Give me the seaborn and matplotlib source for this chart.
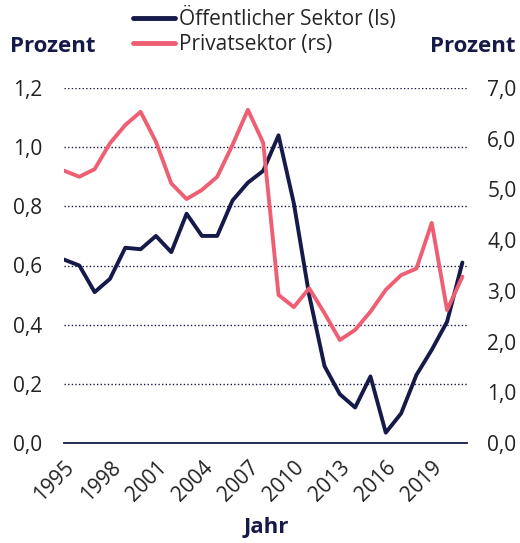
import numpy as np
import pandas as pd
import matplotlib
matplotlib.use("Agg")
import matplotlib.pyplot as plt
from matplotlib.ticker import FuncFormatter, FixedLocator
import seaborn as sns

# ==== Data ====
years = list(range(1995, 2022))
public_sector = [0.62, 0.60, 0.51, 0.555, 0.66, 0.655, 0.70, 0.645, 0.775, 0.70,
                 0.70, 0.82, 0.88, 0.92, 1.04, 0.81, 0.50, 0.26, 0.165, 0.12,
                 0.225, 0.035, 0.10, 0.23, 0.315, 0.41, 0.61]          # left axis
private_sector = [5.37, 5.25, 5.40, 5.91, 6.27, 6.53, 5.94, 5.12, 4.81, 4.99,
                  5.25, 5.88, 6.57, 5.92, 2.92, 2.68, 3.05, 2.56, 2.03, 2.23,
                  2.59, 3.02, 3.31, 3.44, 4.34, 2.62, 3.28]           # right axis
x_ticks = list(range(1995, 2020, 3))
left_ticks = [0.0, 0.2, 0.4, 0.6, 0.8, 1.0, 1.2]
right_ticks = [0, 1, 2, 3, 4, 5, 6, 7]

df = pd.DataFrame({"Jahr": years, "public": public_sector, "private": private_sector})

navy = "#151a48"
pink = "#ef5f74"
txt = "#222222"
fs = 15

sns.set_style("white")
plt.rcParams["font.family"] = ["Open Sans", "DejaVu Sans"]
plt.rcParams["font.size"] = fs

fig = plt.figure(figsize=(5.20, 5.43), dpi=100)
ax = fig.add_axes([64 / 520, 1 - 443 / 543, (467 - 64) / 520, (443 - 88) / 543])
ax2 = ax.twinx()

sns.lineplot(data=df, x="Jahr", y="public", ax=ax, color=navy, linewidth=2.8,
             label="Öffentlicher Sektor (ls)", legend=False)
sns.lineplot(data=df, x="Jahr", y="private", ax=ax2, color=pink, linewidth=2.8,
             label="Privatsektor (rs)", legend=False)

ax.set_xlim(1995, 2021.3)
ax.set_ylim(0, 1.2)
ax2.set_ylim(0, 7)

comma = FuncFormatter(lambda v, p: f"{v:.1f}".replace(".", ","))
ax.yaxis.set_major_locator(FixedLocator(left_ticks))
ax.yaxis.set_major_formatter(comma)
ax2.yaxis.set_major_locator(FixedLocator(right_ticks))
ax2.yaxis.set_major_formatter(comma)
ax.set_xticks(x_ticks)
ax.set_xticklabels([str(y) for y in x_ticks], rotation=45, ha="right",
                   rotation_mode="anchor", color=txt)

# dotted grid lines (not at zero, where the axis line sits)
for v in left_ticks[1:]:
    ax.axhline(v, color=navy, linestyle=(0, (1, 1.6)), linewidth=1.0, zorder=0)

for a in (ax, ax2):
    for s in ("top", "left", "right", "bottom"):
        a.spines[s].set_visible(False)
ax.spines["bottom"].set_visible(True)
ax.spines["bottom"].set_color(navy)
ax.spines["bottom"].set_linewidth(1.3)

ax.tick_params(axis="x", direction="out", length=7, width=1.3, color=navy, pad=3,
               labelsize=fs)
ax.tick_params(axis="y", length=0, pad=15.5, labelcolor=txt, labelsize=fs)
ax2.tick_params(axis="y", length=0, pad=14.5, labelcolor=txt, labelsize=fs)

ax.set_xlabel("")
ax.set_ylabel("")
ax2.set_ylabel("")
fig.text(266 / 520, 1 - 527 / 543, "Jahr", ha="center", va="center",
         fontsize=16, fontweight="bold", color=navy)
fig.text(10 / 520, 1 - 46 / 543, "Prozent", ha="left", va="center",
         fontsize=16, fontweight="bold", color=navy)
fig.text(516 / 520, 1 - 46 / 543, "Prozent", ha="right", va="center",
         fontsize=16, fontweight="bold", color=navy)

h1, l1 = ax.get_legend_handles_labels()
h2, l2 = ax2.get_legend_handles_labels()
leg = fig.legend(h1 + h2, l1 + l2, loc="upper left",
                 bbox_to_anchor=(133 / 520, 1 - 7 / 543), frameon=False,
                 borderpad=0, borderaxespad=0, handlelength=2.0,
                 handletextpad=0.2, labelspacing=0.2, fontsize=fs)
for line in leg.get_lines():
    line.set_linewidth(3.5)

fig.savefig("out.png", dpi=100)
